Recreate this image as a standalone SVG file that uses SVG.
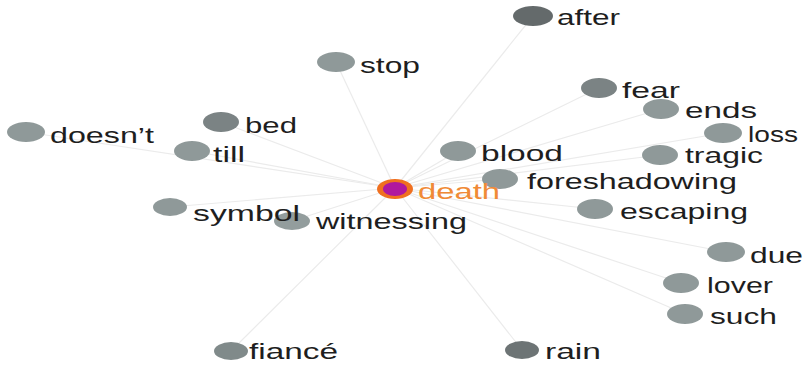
<svg xmlns="http://www.w3.org/2000/svg" width="805" height="369" viewBox="0 0 805 369">
<style>
.e{stroke:#ebebeb;stroke-width:1.2;fill:none}
.n{fill:#8f9999}
.d{fill:#7b8384}
.k{fill:#646a6b}
.t{font-family:"Liberation Sans",Arial,sans-serif;font-size:22px;fill:#1e1e1e}
.dt{font-family:"Liberation Sans",Arial,sans-serif;font-size:22px;fill:#f08a36}
</style>
<rect width="805" height="369" fill="#ffffff"/>
<g id="connectors">
<line class="e" x1="395" y1="188" x2="533" y2="16"/>
<line class="e" x1="395" y1="188" x2="336" y2="62"/>
<line class="e" x1="395" y1="188" x2="599" y2="88"/>
<line class="e" x1="395" y1="188" x2="661" y2="109"/>
<line class="e" x1="395" y1="188" x2="723" y2="133"/>
<line class="e" x1="395" y1="188" x2="660" y2="155"/>
<line class="e" x1="395" y1="188" x2="458" y2="151"/>
<line class="e" x1="395" y1="188" x2="500" y2="179"/>
<line class="e" x1="395" y1="188" x2="595" y2="209"/>
<line class="e" x1="395" y1="188" x2="726" y2="252"/>
<line class="e" x1="395" y1="188" x2="681" y2="283"/>
<line class="e" x1="395" y1="188" x2="685" y2="314"/>
<line class="e" x1="395" y1="188" x2="522" y2="350"/>
<line class="e" x1="395" y1="188" x2="231" y2="351"/>
<line class="e" x1="395" y1="188" x2="292" y2="221"/>
<line class="e" x1="395" y1="188" x2="170" y2="207"/>
<line class="e" x1="395" y1="188" x2="26" y2="132"/>
<line class="e" x1="395" y1="188" x2="192" y2="151"/>
<line class="e" x1="395" y1="188" x2="221" y2="122"/>
</g>
<g id="after"><ellipse class="k" cx="533" cy="16" rx="20" ry="10"/><text class="t" x="557" y="25" textLength="63" lengthAdjust="spacingAndGlyphs">after</text></g>
<g id="stop"><ellipse class="n" cx="336" cy="62" rx="19" ry="10"/><text class="t" x="360" y="73" textLength="60" lengthAdjust="spacingAndGlyphs">stop</text></g>
<g id="fear"><ellipse class="d" cx="599" cy="88" rx="18" ry="10"/><text class="t" x="622" y="98" textLength="58" lengthAdjust="spacingAndGlyphs">fear</text></g>
<g id="ends"><ellipse class="n" cx="661" cy="109" rx="18" ry="10"/><text class="t" x="685" y="118" textLength="72" lengthAdjust="spacingAndGlyphs">ends</text></g>
<g id="loss"><ellipse class="n" cx="723" cy="133" rx="19" ry="10"/><text class="t" x="748" y="142" textLength="50" lengthAdjust="spacingAndGlyphs">loss</text></g>
<g id="tragic"><ellipse class="n" cx="660" cy="155" rx="18" ry="10"/><text class="t" x="685" y="163" textLength="78" lengthAdjust="spacingAndGlyphs">tragic</text></g>
<g id="blood"><ellipse class="n" cx="458" cy="151" rx="18" ry="10"/><text class="t" x="481" y="161" textLength="82" lengthAdjust="spacingAndGlyphs">blood</text></g>
<g id="foreshadowing"><ellipse class="n" cx="500" cy="179" rx="18" ry="10"/><text class="t" x="527" y="189" textLength="210" lengthAdjust="spacingAndGlyphs">foreshadowing</text></g>
<g id="escaping"><ellipse class="n" cx="595" cy="209" rx="18" ry="10"/><text class="t" x="620" y="219" textLength="128" lengthAdjust="spacingAndGlyphs">escaping</text></g>
<g id="due"><ellipse class="n" cx="726" cy="252" rx="19" ry="10"/><text class="t" x="750" y="263" textLength="53" lengthAdjust="spacingAndGlyphs">due</text></g>
<g id="lover"><ellipse class="n" cx="681" cy="283" rx="18" ry="10"/><text class="t" x="707" y="293" textLength="66" lengthAdjust="spacingAndGlyphs">lover</text></g>
<g id="such"><ellipse class="n" cx="685" cy="314" rx="18" ry="10"/><text class="t" x="710" y="324" textLength="67" lengthAdjust="spacingAndGlyphs">such</text></g>
<g id="rain"><ellipse class="k" cx="522" cy="350" rx="17" ry="9" style="fill:#6d7475"/><text class="t" x="545" y="359" textLength="56" lengthAdjust="spacingAndGlyphs">rain</text></g>
<g id="fiance"><ellipse class="n" cx="231" cy="351" rx="17" ry="9" style="fill:#808a8a"/><text class="t" x="249" y="359" textLength="89" lengthAdjust="spacingAndGlyphs">fiancé</text></g>
<g id="witnessing"><ellipse class="n" cx="292" cy="221" rx="18" ry="9" style="fill:#939d9d"/><text class="t" x="316" y="229" textLength="151" lengthAdjust="spacingAndGlyphs">witnessing</text></g>
<g id="symbol"><ellipse class="n" cx="170" cy="207" rx="17" ry="9"/><text class="t" x="193" y="221" textLength="107" lengthAdjust="spacingAndGlyphs">symbol</text></g>
<g id="doesnt"><ellipse class="n" cx="26" cy="132" rx="19" ry="10"/><text class="t" x="50" y="143" textLength="104" lengthAdjust="spacingAndGlyphs">doesn’t</text></g>
<g id="till"><ellipse class="n" cx="192" cy="151" rx="18" ry="10"/><text class="t" x="213" y="162" textLength="32" lengthAdjust="spacingAndGlyphs">till</text></g>
<g id="bed"><ellipse class="d" cx="221" cy="122" rx="18" ry="10"/><text class="t" x="245" y="133" textLength="52" lengthAdjust="spacingAndGlyphs">bed</text></g>
<g id="death"><ellipse cx="395" cy="189" rx="18" ry="10" fill="#f07020"/><ellipse cx="395" cy="189" rx="12" ry="7" fill="#b0189e"/><text class="dt" x="418" y="199" textLength="82" lengthAdjust="spacingAndGlyphs">death</text></g>
</svg>
